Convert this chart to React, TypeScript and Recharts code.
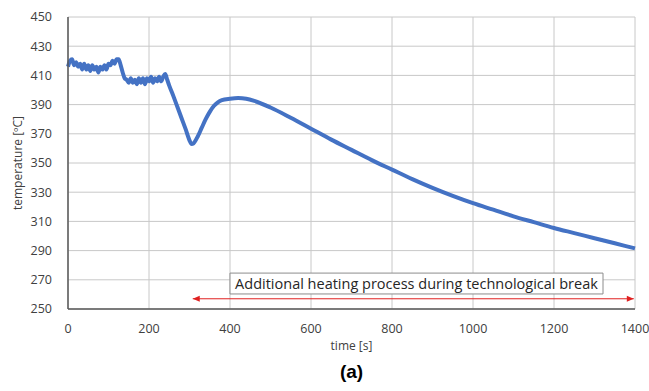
import {
	CartesianGrid,
	Label,
	Line,
	LineChart,
	ReferenceArea,
	ReferenceLine,
	XAxis,
	YAxis,
} from "recharts";

// time [s]
const times = [
	0, 5, 10, 15, 20, 25, 30, 35, 40, 45, 50, 55, 60, 65, 70, 75, 80, 85, 90, 95,
	100, 105, 110, 115, 120, 125, 130, 135, 140, 145, 150, 155, 160, 165, 170, 175,
	180, 185, 190, 195, 200, 205, 210, 215, 220, 225, 230, 235, 240, 245, 250, 260,
	270, 280, 290, 300, 305, 310, 320, 330, 340, 350, 360, 370, 380, 400, 420, 440,
	460, 500, 550, 600, 650, 700, 750, 800, 850, 900, 950, 1000, 1050, 1100, 1150,
	1200, 1250, 1300, 1350, 1400,
];

// temperature [ºC]
const temps = [
	416, 420, 421, 417, 419, 416, 418, 414, 418, 414, 417, 413, 417, 414, 416, 412,
	416, 414, 417, 414, 418, 417, 420, 418, 421, 421, 417, 412, 408, 407, 405, 408,
	405, 407, 404, 408, 405, 408, 404, 408, 406, 409, 405, 408, 406, 409, 406, 409,
	411, 407, 403, 396, 388.5, 381, 373.5, 365.5, 363, 363.5, 368, 374, 380, 385, 389,
	391.5, 393, 394, 394.5, 394, 392.5, 388, 381, 373.5, 366, 359, 352, 345.5, 339,
	333, 327.5, 322.5, 318, 313.5, 309.5, 305.5, 302, 298.5, 295, 291.5,
];

const xTicks = [0, 200, 400, 600, 800, 1000, 1200, 1400];
const yTicks = [250, 270, 290, 310, 330, 350, 370, 390, 410, 430, 450];

const data = times.map((t, i) => ({ time: t, temp: temps[i] }));

const font = "'Open Sans', sans-serif";
const tickStyle = { fontSize: 12.5, fill: "#404040", fontFamily: font };

// double-headed red arrow
const Arrow = (props: any) => {
	const { x1, y1, x2, y2 } = props;
	if (x1 == null) return null;
	return (
		<g>
			<line x1={x1} y1={y1} x2={x2} y2={y2} stroke="#e02020" strokeWidth={1} />
			<polygon points={`${x1},${y1} ${x1 + 7},${y1 - 3} ${x1 + 7},${y1 + 3}`} fill="#e02020" />
			<polygon points={`${x2},${y2} ${x2 - 7},${y2 - 3} ${x2 - 7},${y2 + 3}`} fill="#e02020" />
		</g>
	);
};

export default function App() {
	return (
		<div style={{ position: "absolute", left: 0, top: 0, width: 649, height: 391, background: "#fff" }}>
			<LineChart
				width={649}
				height={391}
				data={data}
				margin={{ top: 17, right: 14, left: 0, bottom: 52 }}
			>
				<CartesianGrid stroke="#c8c8c8" strokeWidth={1} />
				<XAxis
					dataKey="time"
					type="number"
					domain={[0, 1400]}
					ticks={xTicks}
					tickLine={false}
					axisLine={{ stroke: "#595959", strokeWidth: 1.5 }}
					tick={tickStyle}
					tickMargin={9}
					height={30}
				>
					<Label
						value="time [s]"
						position="bottom"
						offset={2}
						style={{ fontSize: 12, fill: "#404040", fontFamily: font }}
					/>
				</XAxis>
				<YAxis
					type="number"
					domain={[250, 450]}
					ticks={yTicks}
					tickLine={false}
					axisLine={{ stroke: "#595959", strokeWidth: 1.5 }}
					tick={tickStyle}
					tickMargin={10}
					width={68}
				>
					<Label
						value="temperature [ºC]"
						angle={-90}
						position="insideLeft"
						offset={18}
						style={{ fontSize: 12, fill: "#404040", fontFamily: font, textAnchor: "middle" }}
					/>
				</YAxis>
				<ReferenceArea
					x1={400}
					x2={1321}
					y1={260.3}
					y2={274.6}
					fill="#ffffff"
					fillOpacity={1}
					stroke="#8c8c8c"
					strokeWidth={1}
					ifOverflow="visible"
				>
					<Label
						value="Additional heating process during technological break"
						position="center"
						style={{ fontSize: 14.5, fill: "#262626", fontFamily: font }}
					/>
				</ReferenceArea>
				<ReferenceLine
					segment={[
						{ x: 308, y: 257 },
						{ x: 1397, y: 257 },
					]}
					shape={Arrow}
					ifOverflow="visible"
				/>
				<Line
					type="monotone"
					dataKey="temp"
					stroke="#4472C4"
					strokeWidth={4}
					dot={false}
					isAnimationActive={false}
				/>
			</LineChart>
			<div
				style={{
					position: "absolute",
					left: 0,
					width: 703,
					top: 361,
					textAlign: "center",
					fontFamily: "'Liberation Sans', Arial, sans-serif",
					fontWeight: "bold",
					fontSize: 19,
					color: "#000",
				}}
			>
				(a)
			</div>
		</div>
	);
}
